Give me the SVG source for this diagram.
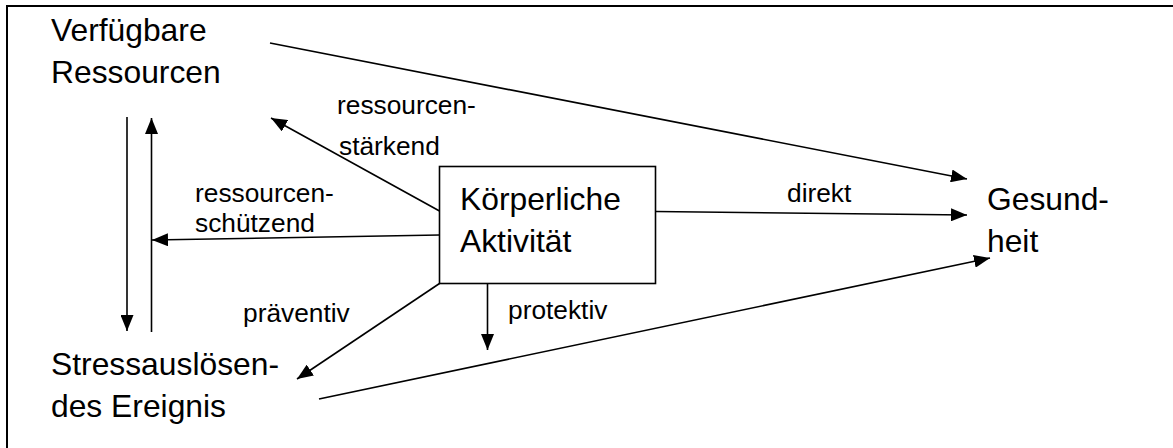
<svg xmlns="http://www.w3.org/2000/svg" width="1173" height="448" viewBox="0 0 1173 448">
<style>
.node{font-family:"Liberation Sans",Arial,sans-serif;font-size:31.8px;fill:#000}
.lbl{font-family:"Liberation Sans",Arial,sans-serif;font-size:26.3px;fill:#000}
.c{stroke:#000;stroke-width:1.6;fill:none;marker-end:url(#ah)}
</style>
<defs>
<marker id="ah" markerUnits="userSpaceOnUse" markerWidth="17" markerHeight="13" refX="16" refY="6.5" orient="auto">
<path d="M0,0 L16,6.5 L0,13 z" fill="#000"/>
</marker>
</defs>
<rect width="1173" height="448" fill="#fff"/>
<path d="M7,448 L7,6 L1173,6" stroke="#000" stroke-width="2" fill="none"/>
<g id="resources"><text class="node" x="51" y="41">Verfügbare</text><text class="node" x="51" y="83">Ressourcen</text></g>
<g id="activity"><rect x="439.5" y="166.5" width="216" height="117" fill="#fff" stroke="#000" stroke-width="1.6"/><text class="node" x="460" y="210">Körperliche</text><text class="node" x="460" y="252">Aktivität</text></g>
<g id="health"><text class="node" x="987" y="210">Gesund-</text><text class="node" x="987" y="252">heit</text></g>
<g id="stress"><text class="node" x="51" y="375">Stressauslösen-</text><text class="node" x="51" y="417">des Ereignis</text></g>
<g id="connectors">
<line class="c" x1="127" y1="117" x2="127" y2="331"/>
<line class="c" x1="151.5" y1="332" x2="151.5" y2="118"/>
<line class="c" x1="270" y1="43" x2="967" y2="179"/>
<line class="c" x1="439.5" y1="211" x2="271" y2="118"/>
<line class="c" x1="439.5" y1="235" x2="152" y2="240"/>
<line class="c" x1="655.5" y1="211.5" x2="967" y2="215"/>
<line class="c" x1="439.5" y1="283.5" x2="297" y2="379"/>
<line class="c" x1="487.5" y1="283.5" x2="487.5" y2="350"/>
<line class="c" x1="319" y1="399" x2="990" y2="258"/>
</g>
<g id="labels">
<text class="lbl" x="337" y="114">ressourcen-</text>
<text class="lbl" x="339" y="155">stärkend</text>
<text class="lbl" x="195" y="202">ressourcen-</text>
<text class="lbl" x="195" y="232">schützend</text>
<text class="lbl" x="787" y="202">direkt</text>
<text class="lbl" x="243" y="322">präventiv</text>
<text class="lbl" x="508" y="319">protektiv</text>
</g>
</svg>
